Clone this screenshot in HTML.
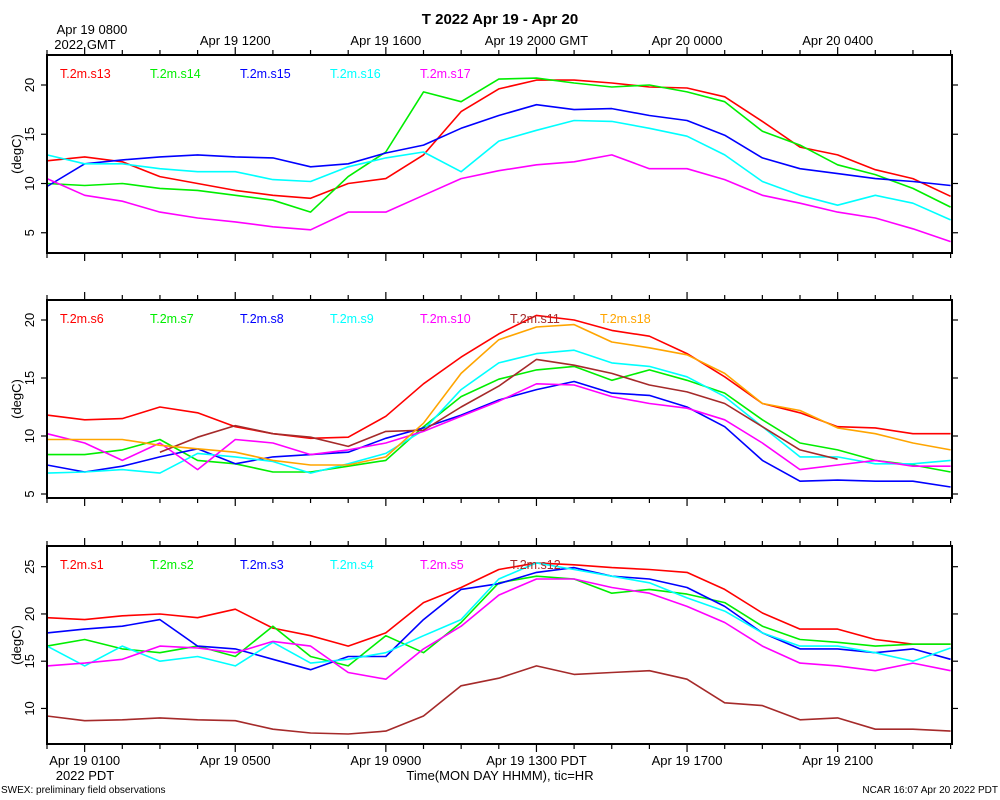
<!DOCTYPE html>
<html><head><meta charset="utf-8"><style>
body{margin:0;background:#fff;}
svg{display:block;font-family:"Liberation Sans",sans-serif;}
</style></head><body>
<svg id="chart" width="1000" height="800" xmlns="http://www.w3.org/2000/svg">
<text x="500" y="24" text-anchor="middle" font-size="15" font-weight="bold">T 2022 Apr 19 - Apr 20</text>
<text x="92" y="34" text-anchor="middle" font-size="13">Apr 19 0800</text>
<text x="85" y="49" text-anchor="middle" font-size="13">2022 GMT</text>
<text x="85" y="780" text-anchor="middle" font-size="13">2022 PDT</text>
<text x="500" y="780" text-anchor="middle" font-size="13">Time(MON DAY HHMM), tic=HR</text>
<text x="1" y="793" font-size="10">SWEX: preliminary field observations</text>
<text x="998" y="793" text-anchor="end" font-size="10">NCAR 16:07 Apr 20 2022 PDT</text>
</svg>
<script>
const hours=[0,1,2,3,4,5,6,7,8,9,10,11,12,13,14,15,16,17,18,19,20,21,22,23,24];
const topTickLabels=["Apr 19 1200","Apr 19 1600","Apr 19 2000 GMT","Apr 20 0000","Apr 20 0400"];
const topTickHours=[5,9,13,17,21];
const bottomTickLabels=["Apr 19 0100","Apr 19 0500","Apr 19 0900","Apr 19 1300 PDT","Apr 19 1700","Apr 19 2100"];
const bottomTickHours=[1,5,9,13,17,21];

const p1Names=["T.2m.s13","T.2m.s14","T.2m.s15","T.2m.s16","T.2m.s17"];
const s13=[12.3,12.7,12.2,10.7,10.0,9.3,8.8,8.5,10.0,10.5,12.9,17.3,19.6,20.5,20.5,20.2,19.8,19.7,18.8,16.3,13.7,12.9,11.4,10.5,8.7];
const s14=[10.0,9.8,10.0,9.5,9.3,8.8,8.3,7.1,10.7,13.2,19.3,18.3,20.6,20.7,20.2,19.8,20.0,19.3,18.3,15.3,13.9,11.9,10.9,9.5,7.6];
const s15=[9.7,12.0,12.4,12.7,12.9,12.7,12.6,11.7,12.0,13.1,13.9,15.6,16.9,18.0,17.5,17.6,16.9,16.4,14.9,12.6,11.5,11.0,10.5,10.2,9.8];
const s16=[12.9,12.0,12.0,11.5,11.2,11.2,10.4,10.2,11.7,12.6,13.2,11.2,14.3,15.4,16.4,16.3,15.6,14.8,12.9,10.2,8.8,7.8,8.8,8.0,6.3];
const s17=[10.5,8.8,8.2,7.1,6.5,6.1,5.6,5.3,7.1,7.1,8.8,10.5,11.3,11.9,12.2,12.9,11.5,11.5,10.4,8.8,8.0,7.1,6.5,5.4,4.1];

const p2Names=["T.2m.s6","T.2m.s7","T.2m.s8","T.2m.s9","T.2m.s10","T.2m.s11","T.2m.s18"];
const s6=[11.8,11.4,11.5,12.5,12.0,10.8,10.2,9.8,9.9,11.7,14.5,16.8,18.8,20.4,20.0,19.1,18.6,17.1,15.1,12.8,12.0,10.8,10.7,10.2,10.2];
const s7=[8.4,8.4,8.8,9.7,7.9,7.6,6.9,6.9,7.4,7.9,10.8,13.4,14.9,15.7,16.0,14.8,15.7,14.8,13.7,11.4,9.4,8.8,7.9,7.5,6.9];
const s8=[7.5,6.9,7.4,8.2,8.9,7.6,8.2,8.4,8.6,9.8,10.7,11.8,13.1,14.0,14.7,13.7,13.5,12.5,10.8,7.9,6.1,6.2,6.1,6.1,5.6];
const s9=[6.8,6.9,7.1,6.8,8.5,8.2,7.8,6.8,7.6,8.5,10.5,14.0,16.3,17.1,17.4,16.3,16.0,15.1,13.4,10.8,8.2,8.2,7.6,7.6,7.9];
const s10=[10.2,9.4,7.9,9.4,7.1,9.7,9.4,8.4,8.8,9.4,10.4,11.7,13.0,14.5,14.4,13.4,12.8,12.4,11.4,9.4,7.1,7.5,7.9,7.4,7.4];
const s11=[null,null,null,8.6,9.9,10.9,10.2,9.9,9.1,10.4,10.5,12.5,14.3,16.6,16.1,15.4,14.4,13.8,12.8,10.8,8.8,8.0,null,null,null];
const s18=[9.7,9.7,9.7,9.2,8.9,8.6,7.9,7.5,7.5,8.2,11.1,15.4,18.3,19.4,19.6,18.1,17.6,17.0,15.4,12.8,12.2,10.7,10.2,9.4,8.8];

const p3Names=["T.2m.s1","T.2m.s2","T.2m.s3","T.2m.s4","T.2m.s5","T.2m.s12"];
const s1=[19.6,19.4,19.8,20.0,19.6,20.5,18.5,17.7,16.6,18.0,21.2,22.8,24.7,25.4,25.2,24.9,24.7,24.4,22.6,20.1,18.4,18.4,17.3,16.8,16.8];
const s2=[16.6,17.3,16.3,15.9,16.6,15.5,18.7,15.5,14.5,17.7,15.9,19.1,23.3,24.0,23.7,22.2,22.6,22.1,21.2,18.7,17.3,17.0,16.6,16.8,16.8];
const s3=[18.0,18.4,18.7,19.4,16.6,16.3,15.2,14.1,15.5,15.5,19.4,22.6,23.2,24.4,24.9,24.0,23.7,22.8,20.8,18.0,16.3,16.3,15.9,16.3,15.2];
const s4=[16.6,14.5,16.6,15.0,15.5,14.5,17.0,14.8,15.2,15.9,17.7,19.4,23.7,25.4,24.7,24.0,23.3,21.7,20.3,18.0,16.6,16.6,15.9,15.0,16.4];
const s5=[14.5,14.8,15.2,16.6,16.4,15.9,17.1,16.6,13.8,13.1,16.3,18.7,22.0,23.7,23.7,22.8,22.2,20.8,19.1,16.6,14.8,14.5,14.0,14.8,14.0];
const s12=[9.2,8.7,8.8,9.0,8.8,8.7,7.8,7.4,7.3,7.6,9.2,12.4,13.2,14.5,13.6,13.8,14.0,13.1,10.6,10.3,8.8,9.0,7.8,7.8,7.6];

const NS="http://www.w3.org/2000/svg";
const svg=document.getElementById('chart');
const X0=47,X1=952,HPX=37.65;
function xs(h){return X0+h*HPX;}
function mk(tag,attrs){const e=document.createElementNS(NS,tag);for(const k in attrs)e.setAttribute(k,attrs[k]);svg.appendChild(e);return e;}

const panels=[
 {key:'top',top:55,bot:253,vRef:20,yRef:85,ppu:9.85,ticks:[5,10,15,20],names:p1Names,series:[s13,s14,s15,s16,s17],colors:['#ff0000','#00ee00','#0000ff','#00ffff','#ff00ff']},
 {key:'middle',top:300,bot:498,vRef:20,yRef:320,ppu:11.6,ticks:[5,10,15,20],names:p2Names,series:[s6,s7,s8,s9,s10,s11,s18],colors:['#ff0000','#00ee00','#0000ff','#00ffff','#ff00ff','#a52a2a','#ffa500']},
 {key:'bottom',top:546,bot:744,vRef:25,yRef:566.7,ppu:9.45,ticks:[10,15,20,25],names:p3Names,series:[s1,s2,s3,s4,s5,s12],colors:['#ff0000','#00ee00','#0000ff','#00ffff','#ff00ff','#a52a2a']}
];

panels.forEach(p=>{
 const ys=v=>p.yRef+(p.vRef-v)*p.ppu;
 p.series.forEach((arr,i)=>{
  let d='';let pen=false;
  hours.forEach((h,j)=>{const v=arr[j];if(v===null){pen=false;return;}d+=(pen?'L':'M')+xs(h).toFixed(1)+' '+ys(v).toFixed(1)+' ';pen=true;});
  const path=mk('path',{d:d,fill:'none',stroke:p.colors[i],'stroke-width':'1.6','stroke-linejoin':'round'});
  
  
 });
 p.names.forEach((n,i)=>{
  const t=mk('text',{x:60+i*90,y:p.top+23,'font-size':'12.5',fill:p.colors[i]});
  t.textContent=n;
  
  
 });
 const r=mk('rect',{x:X0,y:p.top,width:X1-X0,height:p.bot-p.top,fill:'none',stroke:'#000','stroke-width':'2'});
 
 
 for(let h=0;h<=24;h++){
  const major=(h%4===1);const L=major?8:5;
  const t1=mk('line',{x1:xs(h),x2:xs(h),y1:p.top,y2:p.top-L,stroke:'#000','stroke-width':'1.2'});
  
  
  const t2=mk('line',{x1:xs(h),x2:xs(h),y1:p.bot,y2:p.bot+L,stroke:'#000','stroke-width':'1.2'});
  
  
 }
 p.ticks.forEach(v=>{
  const y=ys(v);
  const a=mk('line',{x1:X0,x2:X0-6,y1:y,y2:y,stroke:'#000','stroke-width':'1.2'});
  
  
  const b=mk('line',{x1:X1,x2:X1+6,y1:y,y2:y,stroke:'#000','stroke-width':'1.2'});
  
  
  const t=mk('text',{x:0,y:0,transform:'translate(34,'+y+') rotate(-90)','text-anchor':'middle','font-size':'13'});
  t.textContent=String(v);
  
  
 });
 const yt=mk('text',{x:0,y:0,transform:'translate(21,'+((p.top+p.bot)/2)+') rotate(-90)','text-anchor':'middle','font-size':'13'});
 yt.textContent='(degC)';
 
 
});

topTickLabels.forEach((s,i)=>{
 const t=mk('text',{x:xs(topTickHours[i]),y:45,'text-anchor':'middle','font-size':'13'});
 t.textContent=s;
 
 
});
bottomTickLabels.forEach((s,i)=>{
 const t=mk('text',{x:xs(bottomTickHours[i]),y:765,'text-anchor':'middle','font-size':'13'});
 t.textContent=s;
 
 
});
</script>
</body></html>
